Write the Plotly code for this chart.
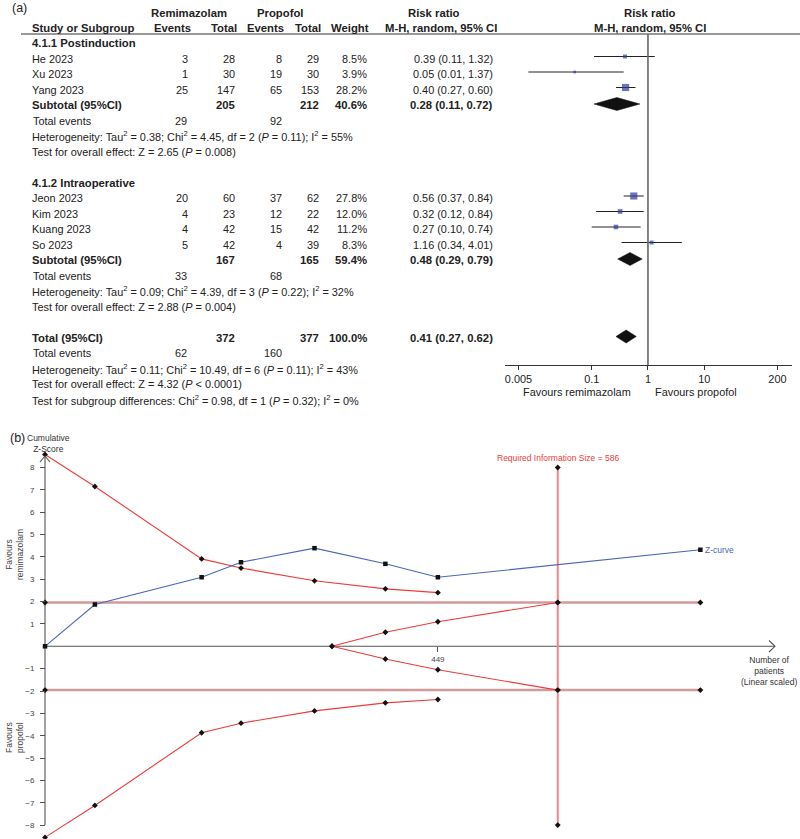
import numpy as np
import plotly.graph_objects as go

W, H = 800, 839

# ---------------- Forest plot data (panel a) ----------------
study_names = ["He 2023", "Xu 2023", "Yang 2023", "Jeon 2023", "Kim 2023", "Kuang 2023", "So 2023"]
study_group = [0, 0, 0, 1, 1, 1, 1]
remi_events = [3, 1, 25, 20, 4, 4, 5]
remi_total = [28, 30, 147, 60, 23, 42, 42]
prop_events = [8, 19, 65, 37, 12, 15, 4]
prop_total = [29, 30, 153, 62, 22, 42, 39]
weights = [8.5, 3.9, 28.2, 27.8, 12.0, 11.2, 8.3]
rr = [0.39, 0.05, 0.40, 0.56, 0.32, 0.27, 1.16]
ci_text_low = [0.11, 0.01, 0.27, 0.37, 0.12, 0.10, 0.34]
ci_text_high = [1.32, 1.37, 0.60, 0.84, 0.84, 0.74, 4.01]
# whiskers as drawn in the figure (Xu's drawn interval differs from its printed one)
ci_plot_low = [0.11, 0.0075, 0.27, 0.37, 0.12, 0.10, 0.34]
ci_plot_high = [1.32, 0.37, 0.60, 0.84, 0.84, 0.74, 4.01]

group_titles = ["4.1.1 Postinduction", "4.1.2 Intraoperative"]
pooled_labels = ["Subtotal (95%CI)", "Subtotal (95%CI)", "Total (95%CI)"]
pooled_remi_total = [205, 167, 372]
pooled_prop_total = [212, 165, 377]
pooled_weight = ["40.6%", "59.4%", "100.0%"]
pooled_rr = [0.28, 0.48, 0.41]
pooled_low = [0.11, 0.29, 0.27]
pooled_high = [0.72, 0.79, 0.62]
total_events_remi = [29, 33, 62]
total_events_prop = [92, 68, 160]
heterogeneity = [
    "Heterogeneity: Tau<sup>2</sup> = 0.38; Chi<sup>2</sup> = 4.45, df = 2 (<i>P</i> = 0.11); I<sup>2</sup> = 55%",
    "Heterogeneity: Tau<sup>2</sup> = 0.09; Chi<sup>2</sup> = 4.39, df = 3 (<i>P</i> = 0.22); I<sup>2</sup> = 32%",
    "Heterogeneity: Tau<sup>2</sup> = 0.11; Chi<sup>2</sup> = 10.49, df = 6 (<i>P</i> = 0.11); I<sup>2</sup> = 43%",
]
overall_effect = [
    "Test for overall effect: Z = 2.65 (<i>P</i> = 0.008)",
    "Test for overall effect: Z = 2.88 (<i>P</i> = 0.004)",
    "Test for overall effect: Z = 4.32 (<i>P</i> < 0.0001)",
]
subgroup_diff = "Test for subgroup differences: Chi<sup>2</sup> = 0.98, df = 1 (<i>P</i> = 0.32); I<sup>2</sup> = 0%"
forest_ticks = [0.005, 0.1, 1, 10, 200]
forest_ticktext = ["0.005", "0.1", "1", "10", "200"]

# ---------------- Trial sequential analysis data (panel b) ----------------
z_patients = [0, 57, 179, 224, 308, 389, 449, 749]
z_curve = [0, 1.87, 3.09, 3.76, 4.39, 3.69, 3.09, 4.32]
bound_patients = [0, 57, 179, 224, 308, 389, 449]
upper_bound = [8.58, 7.15, 3.91, 3.50, 2.93, 2.57, 2.40]
lower_bound = [-8.55, -7.12, -3.87, -3.44, -2.89, -2.53, -2.38]
futility_patients = [328, 389, 449, 586]
futility_upper = [0, 0.63, 1.10, 1.96]
futility_lower = [0, -0.57, -1.05, -1.96]
conv_patients = [0, 586, 749]
conv_z = 1.96
ris = 586
ris_z = [8.0, -8.0]
tsa_xticks = [449]
tsa_yticks = [-8, -7, -6, -5, -4, -3, -2, -1, 1, 2, 3, 4, 5, 6, 7, 8]

# ---------------- layout helpers ----------------
FONT = "Liberation Sans, Arial, sans-serif"
FS = 10.9
FSB = 11.3
TXT = "#222222"


def row_y(k):
    return 43 + 15.5 * k


annotations = []
shapes = []


def txt(x, y, s, anchor="left", bold=False, size=None, color=TXT, **kw):
    if size is None:
        size = FSB if bold else FS
    if bold:
        s = "<b>" + s + "</b>"
    annotations.append(dict(x=x / W, y=y, xref="paper", yref="y", text=s, showarrow=False,
                            xanchor=anchor, yanchor="middle", font=dict(family=FONT, size=size, color=color), **kw))


COL_NAME, COL_EV1, COL_TOT1, COL_EV2, COL_TOT2, COL_W, COL_RR = 30, 190, 237, 284, 321, 369, 495

# headers
txt(10, 8, "(a)", size=12.5)
txt(189, 13, "Remimazolam", anchor="center", bold=True)
txt(280, 13, "Propofol", anchor="center", bold=True)
txt(COL_NAME, 28, "Study or Subgroup", bold=True)
txt(193, 28, "Events", anchor="right", bold=True)
txt(239, 28, "Total", anchor="right", bold=True)
txt(286, 28, "Events", anchor="right", bold=True)
txt(323, 28, "Total", anchor="right", bold=True)
txt(371, 28, "Weight", anchor="right", bold=True)
txt(434, 13, "Risk ratio", anchor="center", bold=True)
txt(499, 28, "M-H, random, 95% CI", anchor="right", bold=True)
txt(650, 13, "Risk ratio", anchor="center", bold=True)
txt(650, 28, "M-H, random, 95% CI", anchor="center", bold=True)
shapes.append(dict(type="line", xref="paper", yref="y", x0=21 / W, x1=1, y0=34, y1=34,
                   line=dict(color="#333", width=1.2)))

# rows
group_start = [0, 9]
pooled_row = [4, 14, 19]
study_y = []
for g in range(2):
    txt(COL_NAME, row_y(group_start[g]), group_titles[g], bold=True)
idx_in_group = [0, 0]
for i, name in enumerate(study_names):
    g = study_group[i]
    k = group_start[g] + 1 + idx_in_group[g]
    idx_in_group[g] += 1
    y = row_y(k)
    study_y.append(y)
    txt(COL_NAME, y, name)
    txt(COL_EV1, y, str(remi_events[i]), anchor="right")
    txt(COL_TOT1, y, str(remi_total[i]), anchor="right")
    txt(COL_EV2, y, str(prop_events[i]), anchor="right")
    txt(COL_TOT2, y, str(prop_total[i]), anchor="right")
    txt(COL_W, y, f"{weights[i]:.1f}%", anchor="right")
    txt(COL_RR, y, f"{rr[i]:.2f} ({ci_text_low[i]:.2f}, {ci_text_high[i]:.2f})", anchor="right")

pooled_y = []
for j in range(3):
    k = pooled_row[j]
    y = row_y(k)
    pooled_y.append(y)
    txt(COL_NAME, y, pooled_labels[j], bold=True)
    txt(COL_TOT1, y, str(pooled_remi_total[j]), anchor="right", bold=True)
    txt(COL_TOT2, y, str(pooled_prop_total[j]), anchor="right", bold=True)
    txt(COL_W, y, pooled_weight[j], anchor="right", bold=True)
    txt(COL_RR, y, f"{pooled_rr[j]:.2f} ({pooled_low[j]:.2f}, {pooled_high[j]:.2f})", anchor="right", bold=True)
    txt(COL_NAME + 1, row_y(k + 1), "Total events")
    txt(COL_EV1 - 1, row_y(k + 1), str(total_events_remi[j]), anchor="right")
    txt(COL_EV2, row_y(k + 1), str(total_events_prop[j]), anchor="right")
    txt(COL_NAME, row_y(k + 2), heterogeneity[j])
    txt(COL_NAME, row_y(k + 3), overall_effect[j])
txt(COL_NAME, row_y(23), subgroup_diff)

txt(577, 392, "Favours remimazolam", anchor="center")
txt(696, 392, "Favours propofol", anchor="center")

fig = go.Figure()

# whiskers
wx, wy = [], []
for i in range(len(study_names)):
    wx += [ci_plot_low[i], ci_plot_high[i], None]
    wy += [study_y[i] - 2, study_y[i] - 2, None]
fig.add_trace(go.Scatter(x=wx, y=wy, mode="lines", line=dict(color="#222", width=1),
                         xaxis="x", yaxis="y", hoverinfo="skip"))
fig.add_trace(go.Scatter(x=rr, y=[y - 2 for y in study_y], mode="markers",
                         marker=dict(symbol="square", size=[1.35 * np.sqrt(w) for w in weights],
                                     color="#2B3A9C", line=dict(width=0)),
                         xaxis="x", yaxis="y", hoverinfo="skip"))
for j in range(3):
    yc = pooled_y[j] - 1
    fig.add_trace(go.Scatter(x=[pooled_low[j], pooled_rr[j], pooled_high[j], pooled_rr[j], pooled_low[j]],
                             y=[yc, yc - 6.5, yc, yc + 6.5, yc], mode="lines", fill="toself",
                             fillcolor="#111", line=dict(color="#111", width=0.5),
                             xaxis="x", yaxis="y", hoverinfo="skip"))
# line of no effect
shapes.append(dict(type="line", xref="x", yref="y", x0=1, x1=1, y0=34, y1=365,
                   line=dict(color="#666", width=1.6)))

# ---------------- TSA panel ----------------
RED = "#EE3B3B"
BLUE = "#4A66B8"
CONV = "#D29A9A"
mk_d = dict(symbol="diamond", size=4.5, color="#111")

# conventional boundaries
for s in (1, -1):
    fig.add_trace(go.Scatter(x=conv_patients, y=[s * conv_z] * len(conv_patients), mode="lines+markers",
                             line=dict(color=CONV, width=2.5), marker=mk_d,
                             xaxis="x2", yaxis="y2", hoverinfo="skip", cliponaxis=False))
# RIS vertical
fig.add_trace(go.Scatter(x=[ris, ris], y=ris_z, mode="lines+markers", line=dict(color="#F28585", width=2),
                         marker=mk_d, xaxis="x2", yaxis="y2", hoverinfo="skip", cliponaxis=False))
# monitoring boundaries
for yy in (upper_bound, lower_bound):
    fig.add_trace(go.Scatter(x=bound_patients, y=yy, mode="lines+markers", line=dict(color=RED, width=1.1),
                             marker=mk_d, xaxis="x2", yaxis="y2", hoverinfo="skip", cliponaxis=False))
for yy in (futility_upper, futility_lower):
    fig.add_trace(go.Scatter(x=futility_patients, y=yy, mode="lines+markers", line=dict(color=RED, width=1.1),
                             marker=mk_d, xaxis="x2", yaxis="y2", hoverinfo="skip", cliponaxis=False))
# Z-curve
fig.add_trace(go.Scatter(x=z_patients, y=z_curve, mode="lines+markers", line=dict(color=BLUE, width=1.1),
                         marker=dict(symbol="square", size=4.5, color="#111"),
                         xaxis="x2", yaxis="y2", hoverinfo="skip", cliponaxis=False))

# axes for TSA (drawn as shapes)
shapes.append(dict(type="line", xref="x2", yref="y2", x0=0, x1=0, y0=-8, y1=8.5,
                   line=dict(color="#555", width=1.1), layer="below"))
shapes.append(dict(type="line", xref="x2", yref="y2", x0=0, x1=834, y0=0, y1=0,
                   line=dict(color="#555", width=1.1), layer="below"))
# arrow heads (pixel coordinates)
shapes.append(dict(type="path", xref="paper", yref="y",
                   path=f"M {40/W},{462} L {45/W},{456} L {50/W},{462}",
                   line=dict(color="#555", width=1.1)))
shapes.append(dict(type="path", xref="paper", yref="y",
                   path=f"M {769/W},{640.5} L {775/W},{646.3} L {769/W},{652}",
                   line=dict(color="#555", width=1.1)))

TS = 8.5
txt(8, 438, "(b)", size=12.5)
annotations.append(dict(x=48 / W, y=443.5, xref="paper", yref="y", text="Cumulative<br>Z-Score",
                        showarrow=False, xanchor="center", yanchor="middle",
                        font=dict(family=FONT, size=TS, color="#333")))
annotations.append(dict(x=14 / W, y=555, xref="paper", yref="y", text="Favours<br>remimazolam",
                        showarrow=False, textangle=-90, xanchor="center", yanchor="middle",
                        font=dict(family=FONT, size=TS, color="#444")))
annotations.append(dict(x=14 / W, y=738, xref="paper", yref="y", text="Favours<br>propofol",
                        showarrow=False, textangle=-90, xanchor="center", yanchor="middle",
                        font=dict(family=FONT, size=TS, color="#444")))
annotations.append(dict(x=ris, y=ris_z[0], xref="x2", yref="y2",
                        text=f"Required Information Size = {ris}", showarrow=False,
                        xanchor="center", yanchor="bottom", yshift=3,
                        font=dict(family=FONT, size=TS, color=RED)))
annotations.append(dict(x=z_patients[-1], y=z_curve[-1], xref="x2", yref="y2", text="Z-curve",
                        showarrow=False, xanchor="left", yanchor="middle", xshift=3,
                        font=dict(family=FONT, size=TS, color=BLUE)))
annotations.append(dict(x=769 / W, y=671, xref="paper", yref="y",
                        text="Number of<br>patients<br>(Linear scaled)", showarrow=False,
                        xanchor="center", yanchor="middle",
                        font=dict(family=FONT, size=TS, color="#333")))

fig.update_layout(
    width=W, height=H, margin=dict(l=0, r=0, t=0, b=0),
    paper_bgcolor="white", plot_bgcolor="rgba(0,0,0,0)", showlegend=False,
    font=dict(family=FONT, color=TXT, size=FS),
    xaxis=dict(type="log", domain=[505 / W, 792 / W], range=[np.log10(0.00288), np.log10(363)],
               anchor="free", position=1 - 365 / H, showline=True, linecolor="#333", linewidth=1.2,
               ticks="outside", ticklen=4, tickcolor="#333", tickvals=forest_ticks, ticktext=forest_ticktext,
               showgrid=False, zeroline=False, tickfont=dict(size=FS, color=TXT, family=FONT)),
    yaxis=dict(domain=[0, 1], range=[H, 0], visible=False, showticklabels=False, ticks="",
               showgrid=False, zeroline=False),
    xaxis2=dict(domain=[0, 1], range=[-45 / 0.875, (W - 45) / 0.875], anchor="free", position=1 - 646.3 / H,
                showline=False, ticks="outside", ticklen=5, tickcolor="#555", tickvals=tsa_xticks,
                showgrid=False, zeroline=False, tickfont=dict(size=8, color="#444", family=FONT)),
    yaxis2=dict(domain=[0, 1], range=[(646.3 - H) / 22.35, 646.3 / 22.35], anchor="free", position=45 / W,
                showline=False, ticks="outside", ticklen=5, tickcolor="#555", tickvals=tsa_yticks,
                ticklabelstandoff=4,
                ticktext=[("\u2212" + str(-v)) if v < 0 else str(v) for v in tsa_yticks],
                showgrid=False, zeroline=False, tickfont=dict(size=8, color="#444", family=FONT)),
    annotations=annotations, shapes=shapes,
)

fig.write_html("out.html", config={"displayModeBar": False},
               post_script="document.body.style.margin='0';document.body.style.overflow='hidden';")
